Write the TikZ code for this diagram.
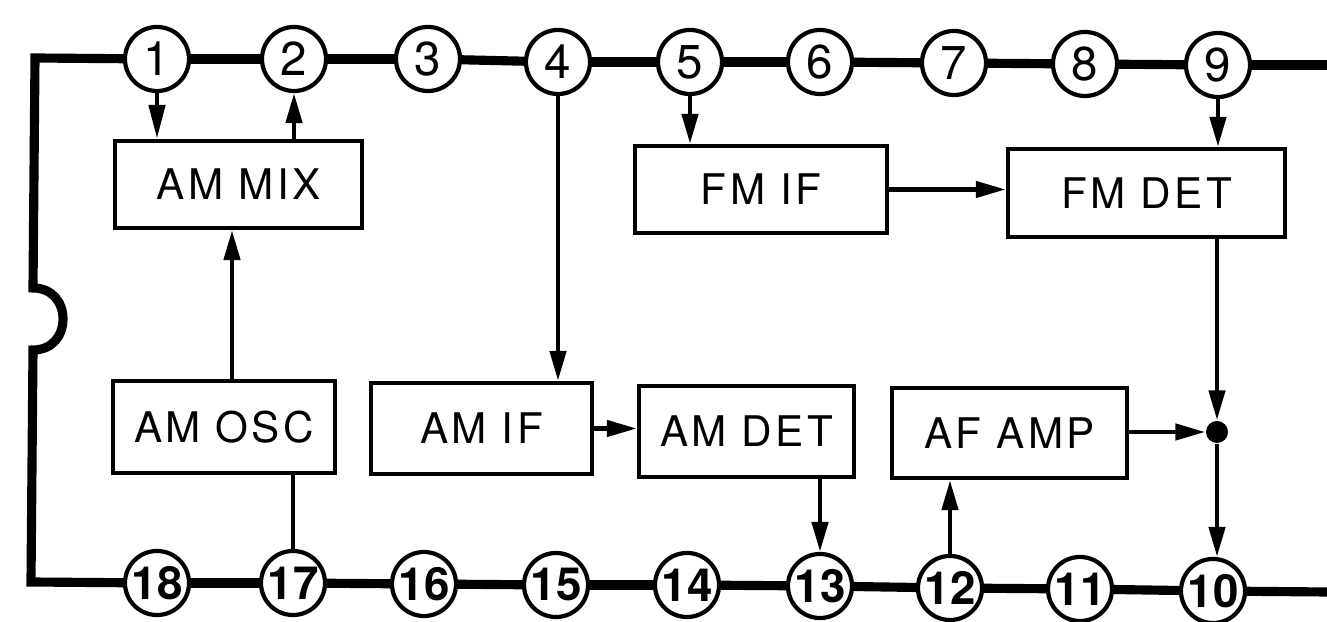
\documentclass[tikz,border=0pt]{standalone}
\usepackage{fontspec}
\setmainfont{TeX Gyre Heros}
\newfontfamily\boxfont[LetterSpace=8,WordSpace=1]{TeX Gyre Heros}
\usetikzlibrary{arrows.meta}
\tikzset{
    pin/.style={circle, draw=black, line width=1.2pt, fill=white, minimum size=0.64cm, inner sep=0pt, font=\fontsize{13.5}{13.5}\selectfont},
    pinb/.style={pin, font=\fontsize{13}{13}\selectfont\bfseries},
    blockbox/.style={draw=black, line width=1.2pt, rectangle, inner sep=0pt, font=\boxfont\fontsize{12}{12}\selectfont},
    rail/.style={draw=black, line width=2.6pt},
    wire/.style={draw=black, line width=1.3pt},
    sig/.style={wire, -{Stealth[length=3mm,width=1.6mm,inset=0pt]}},
    jdot/.style={circle, fill=black, minimum size=0.22cm, inner sep=0pt},
}
\begin{document}
\begin{tikzpicture}[x=0.01cm, y=-0.01cm]
    \useasboundingbox (0,0) rectangle (1327,622);
    % package outline
    \coordinate (topleft) at (35,58);
    \coordinate (notchtop) at (33,288);
    \coordinate (notchbot) at (33,350);
    \coordinate (botleft) at (31,582);
    \coordinate (topend) at (1327,65);
    \coordinate (botend) at (1327,592);
    % pins
    \foreach \x/\y/\n in {157/59/1,294/59/2,428/59/3,558/62/4,690/62/5,820/62/6,954/63/7,1085/64/8,1218/65/9}
        \node[pin] (p\n) at (\x,\y) {\n};
    \foreach \x/\y/\n in {157/583/18,293/583/17,424/584/16,556/585/15,687/585/14,820/586/13,950/588/12,1080/589/11,1213/591/10}
        \node[pinb] (p\n) at (\x,\y) {\n};
    \foreach \a/\b in {1/2,2/3,3/4,4/5,5/6,6/7,7/8,8/9,18/17,17/16,16/15,15/14,14/13,13/12,12/11,11/10}
        \draw[rail] (p\a) -- (p\b);
    \draw[rail, line join=miter] (p1) -- (topleft) -- (notchtop)
        .. controls (52,288) and (63,302) .. (63,319)
        .. controls (63,336) and (52,350) .. (notchbot)
        -- (botleft) -- (p18);
    \draw[rail] (p9) -- (topend);
    \draw[rail] (p10) -- (botend);
    % blocks
    \node[blockbox, minimum width=2.47cm, minimum height=0.87cm] (ammix) at (238.5,184.5) {AM MIX};
    \node[blockbox, minimum width=2.52cm, minimum height=0.87cm] (fmif) at (761,189.5) {FM IF};
    \node[blockbox, minimum width=2.77cm, minimum height=0.88cm] (fmdet) at (1146.5,193) {FM DET};
    \node[blockbox, minimum width=2.22cm, minimum height=0.92cm] (amosc) at (224,427) {AM OSC};
    \node[blockbox, minimum width=2.21cm, minimum height=0.91cm] (amif) at (481.5,428.5) {AM IF};
    \node[blockbox, minimum width=2.15cm, minimum height=0.91cm] (amdet) at (746.5,431.5) {AM DET};
    \node[blockbox, minimum width=2.35cm, minimum height=0.90cm] (afamp) at (1009.5,433) {AF AMP};
    \node[jdot] (join) at (1217,432) {};
    % connections
    \draw[sig, -{Stealth[length=3.4mm,width=1.6mm,inset=0pt]}] (p1.south) -- (p1.south |- ammix.north);
    \draw[sig] (p2.south |- ammix.north) -- (p2.south);
    \coordinate (oscout) at (232,381);
    \draw[sig] (oscout) -- (oscout |- ammix.south);
    \draw[wire] (amosc.south -| p17) -- (p17);
    \draw[sig] (p4) -- (p4 |- amif.north);
    \draw[sig] (p5) -- (p5 |- fmif.north);
    \draw[sig] (p9) -- (p9 |- fmdet.north);
    \draw[sig] (fmif.east) -- (fmif.east -| fmdet.west);
    \draw[sig] (amif.east) -- (amif.east -| amdet.west);
    \draw[sig] (fmdet.south -| join) -- (join);
    \draw[sig] (afamp.east |- join) -- (join);
    \draw[sig] (join) -- (join |- p10.north);
    \draw[sig] (amdet.south -| p13) -- (p13.north);
    \draw[sig] (p12.north) -- (p12.north |- afamp.south);
\end{tikzpicture}
\end{document}
